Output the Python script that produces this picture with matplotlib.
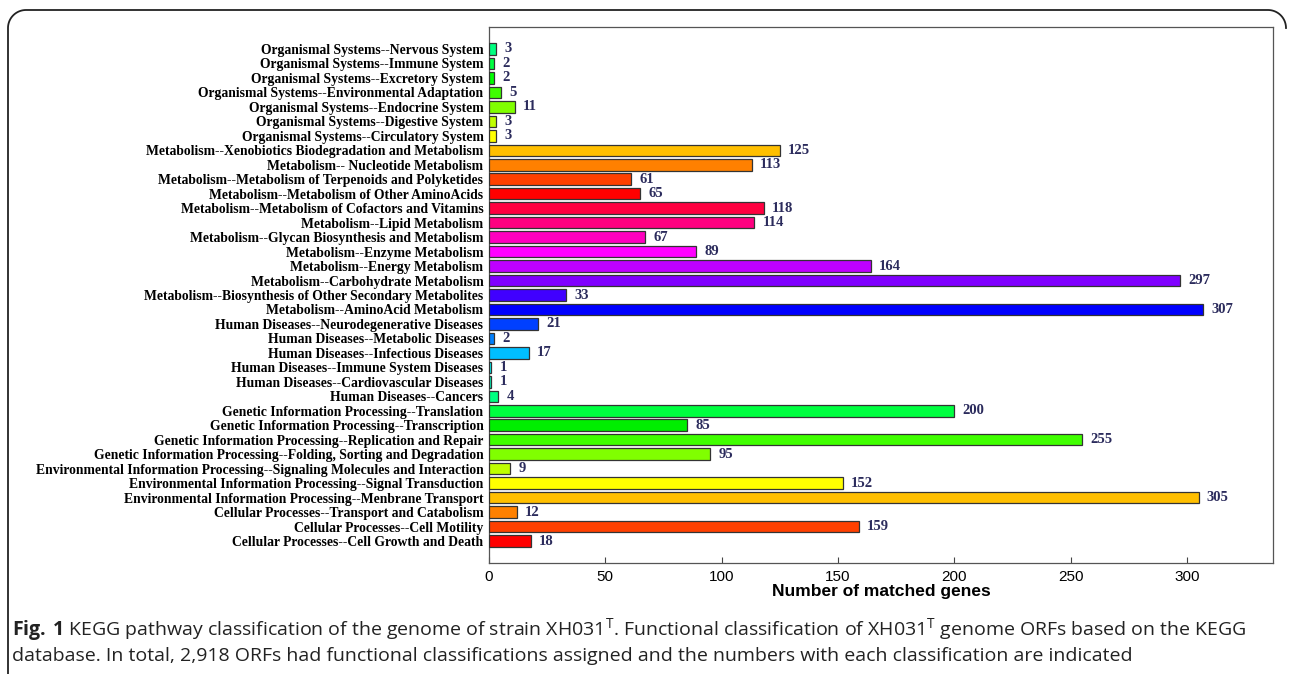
import numpy as np
import matplotlib
matplotlib.use("Agg")
import matplotlib.pyplot as plt
from matplotlib import font_manager
from matplotlib.lines import Line2D

# categories listed top to bottom, as in the figure
categories = [
    "Organismal Systems--Nervous System",
    "Organismal Systems--Immune System",
    "Organismal Systems--Excretory System",
    "Organismal Systems--Environmental Adaptation",
    "Organismal Systems--Endocrine System",
    "Organismal Systems--Digestive System",
    "Organismal Systems--Circulatory System",
    "Metabolism--Xenobiotics Biodegradation and Metabolism",
    "Metabolism-- Nucleotide Metabolism",
    "Metabolism--Metabolism of Terpenoids and Polyketides",
    "Metabolism--Metabolism of Other AminoAcids",
    "Metabolism--Metabolism of Cofactors and Vitamins",
    "Metabolism--Lipid Metabolism",
    "Metabolism--Glycan Biosynthesis and Metabolism",
    "Metabolism--Enzyme Metabolism",
    "Metabolism--Energy Metabolism",
    "Metabolism--Carbohydrate Metabolism",
    "Metabolism--Biosynthesis of Other Secondary Metabolites",
    "Metabolism--AminoAcid Metabolism",
    "Human Diseases--Neurodegenerative Diseases",
    "Human Diseases--Metabolic Diseases",
    "Human Diseases--Infectious Diseases",
    "Human Diseases--Immune System Diseases",
    "Human Diseases--Cardiovascular Diseases",
    "Human Diseases--Cancers",
    "Genetic Information Processing--Translation",
    "Genetic Information Processing--Transcription",
    "Genetic Information Processing--Replication and Repair",
    "Genetic Information Processing--Folding, Sorting and Degradation",
    "Environmental Information Processing--Signaling Molecules and Interaction",
    "Environmental Information Processing--Signal Transduction",
    "Environmental Information Processing--Menbrane Transport",
    "Cellular Processes--Transport and Catabolism",
    "Cellular Processes--Cell Motility",
    "Cellular Processes--Cell Growth and Death",
]
genes = [3, 2, 2, 5, 11, 3, 3,
         125, 113, 61, 65, 118, 114, 67, 89, 164, 297, 33, 307,
         21, 2, 17, 1, 1, 4,
         200, 85, 255, 95,
         9, 152, 305,
         12, 159, 18]
bar_colors = ["#00ff80", "#00ff40", "#00ff00", "#40ff00", "#80ff00", "#bfff00", "#ffff00",
              "#ffbf00", "#ff8000", "#ff4000", "#ff0000", "#ff0040", "#ff0080", "#ff00bf",
              "#ff00ff", "#bf00ff", "#8000ff", "#4000ff", "#0000ff",
              "#0040ff", "#0080ff", "#00bfff", "#00ffff", "#00ffbf", "#00ff80",
              "#00ff40", "#00ee00", "#40ff00", "#80ff00",
              "#bfff00", "#ffff00", "#ffbf00",
              "#ff8000", "#ff4000", "#ff0000"]

names = {f.name for f in font_manager.fontManager.ttflist}
cap_font = "Liberation Sans Narrow" if "Liberation Sans Narrow" in names else "Open Sans"

plt.rcParams['mathtext.fontset'] = 'custom'
plt.rcParams['mathtext.rm'] = cap_font
plt.rcParams['mathtext.bf'] = cap_font + ':bold'

W, H = 1290, 674
fig = plt.figure(figsize=(W / 100, H / 100), dpi=100)
ax = fig.add_axes([489 / W, 1 - 563 / H, (1273 - 489) / W, (563 - 27) / H])

n = len(categories)
ypos = np.arange(n)[::-1]
ax.barh(ypos, genes, height=0.8, color=bar_colors, edgecolor="#333333", linewidth=0.9, zorder=3)

for y, v in zip(ypos, genes):
    ax.annotate(str(v), (v, y), xytext=(6, 0), textcoords="offset points",
                ha="left", va="center", fontsize=10.5, fontweight="bold",
                family="Liberation Serif", color="#2b2b5c")

ax.set_ylim(-1.52, n - 1 + 1.52)
ax.set_xlim(0, 337)
ax.set_yticks(ypos)
ax.set_yticklabels(categories, family="Liberation Serif", fontweight="bold", fontsize=9.8)
ax.tick_params(axis="y", length=0, pad=4)
ax.set_xticks(np.arange(0, 301, 50))
ax.tick_params(axis="x", direction="in", length=4, width=0.8, color="#444444", pad=5,
               labelsize=11)
for lab in ax.get_xticklabels():
    lab.set_family("Liberation Sans")
ax.set_xlabel("Number of matched genes", family="Liberation Sans", fontweight="bold",
              fontsize=12.5, labelpad=0)
for sp in ax.spines.values():
    sp.set_color("#555555")
    sp.set_linewidth(0.9)

# rounded frame around the figure panel (open at bottom right)
r = 18
t = np.linspace(0, np.pi / 2, 20)
xs = list(8 + r - r * np.cos(t)) + list(1286 - r + r * np.sin(t))
ys = list(10 + r - r * np.sin(t)) + list(10 + r - r * np.cos(t))
xs = [8] + xs
ys = [H] + ys
fig.add_artist(Line2D(np.array(xs) / W, 1 - np.array(ys) / H, transform=fig.transFigure,
                      color="#222222", linewidth=1.3))

fig.text(12 / W, 1 - 630 / H,
         r"$\mathbf{Fig.\,1}$ KEGG pathway classification of the genome of strain XH031$^{\mathrm{T}}$. "
         r"Functional classification of XH031$^{\mathrm{T}}$ genome ORFs based on the KEGG",
         family=cap_font, fontsize=14, color="#222222", va="center", ha="left")
fig.text(12 / W, 1 - 656 / H,
         "database. In total, 2,918 ORFs had functional classifications assigned and the numbers "
         "with each classification are indicated",
         family=cap_font, fontsize=14, color="#222222", va="center", ha="left")

fig.savefig("out.png", dpi=100)
